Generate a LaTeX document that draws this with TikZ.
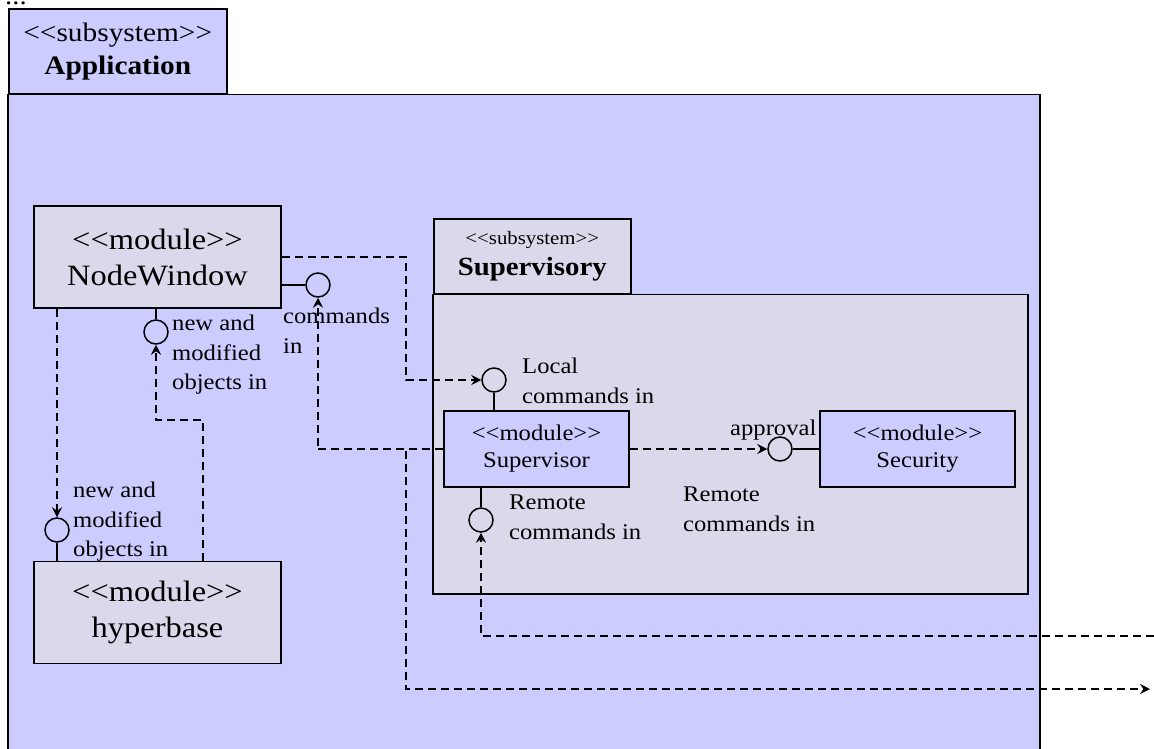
\documentclass[tikz,border=0pt]{standalone}
\usepackage{fontspec}
\setmainfont{Liberation Serif}[FakeStretch=1.1]
\usetikzlibrary{arrows.meta,calc}
\definecolor{subsysblue}{HTML}{CCCCFF}
\definecolor{modgrey}{HTML}{DAD9EC}
\newcommand\stereo[1]{<\kern0pt<#1>\kern0pt>}
\tikzset{
  module/.style={draw,line width=1.5pt,fill=modgrey,align=center,inner sep=0pt},
  bigmod/.style={module,minimum width=247pt,minimum height=102pt,font=\fontsize{29.5}{36}\selectfont},
  smallmod/.style={module,fill=subsysblue,minimum width=185pt,minimum height=76pt,font=\fontsize{22.4}{27}\selectfont},
  iface/.style={draw,line width=1.5pt,circle,minimum size=24pt,inner sep=0pt},
  stem/.style={line width=1.5pt},
  dep/.style={line width=1.8pt,dash pattern=on 8pt off 5pt,->},
  lbl/.style={font=\fontsize{22.4}{29.5}\selectfont,align=left,inner sep=0pt,anchor=north west},
}
\begin{document}
\begin{tikzpicture}[x=1pt,y=-1pt,>={Stealth[length=10pt,width=10pt,inset=3.5pt]}]
  \useasboundingbox (0,0) rectangle (1154,748);
  \node[anchor=base west,inner sep=0pt,font=\fontsize{26}{26}\selectfont] (dots) at (5,4) {...};
  % subsystems
  \node[draw,line width=1.5pt,fill=subsysblue,minimum width=218pt,minimum height=85pt,%
    anchor=north west,align=center,inner sep=0pt,font=\fontsize{26.7}{33}\selectfont] %
    (apptab) at (8,8) {\stereo{subsystem}\\\textbf{Application}};
  \draw[line width=1.5pt,fill=subsysblue] (apptab.south west) rectangle (1040,760);
  \node[draw,line width=1.5pt,fill=modgrey,minimum width=197pt,minimum height=75pt,%
    anchor=north west,align=center,inner sep=0pt,font=\fontsize{26.2}{31}\selectfont] %
    (suptab) at (433,218) {{\fontsize{18.9}{20}\selectfont\stereo{subsystem}}\\\textbf{Supervisory}};
  \draw[line width=1.5pt,fill=modgrey] (suptab.south west) rectangle (1028,594);
  % modules
  \node[bigmod] (nodewin) at (157.5,257) {\stereo{module}\\NodeWindow};
  \node[bigmod] (hyper) at (157.5,612.5) {\stereo{module}\\hyperbase};
  \node[smallmod] (sup) at (536.5,449) {\stereo{module}\\Supervisor};
  \node[smallmod,minimum width=195pt] (sec) at (917.5,449) {\stereo{module}\\Security};
  % interfaces
  \node[iface] (cmd) at (318,285) {};
  \node[iface] (nmonw) at (156,332) {};
  \node[iface] (lci) at (494,380) {};
  \node[iface] (rci) at (481,520) {};
  \node[iface] (appr) at (780,449) {};
  \node[iface] (nmohb) at (57,530) {};
  \draw[stem] (nodewin.east |- cmd) -- (cmd);
  \draw[stem] (nmonw |- nodewin.south) -- (nmonw);
  \draw[stem] (lci) -- (lci |- sup.north);
  \draw[stem] (rci |- sup.south) -- (rci);
  \draw[stem] (appr) -- (sec);
  \draw[stem] (nmohb) -- (nmohb |- hyper.north);
  % dependencies
  \coordinate (remin) at (1154,636);
  \coordinate (remout) at (1150,689);
  \draw[dep] (nodewin.east) -- ++(124,0) |- (lci);
  \draw[dep] (nmohb |- nodewin.south) -- (nmohb);
  \draw[dep] ($(hyper.north west)+(170,0)$) -- ++(0,-141) -| (nmonw);
  \draw[dep] (sup.west) -- ++(-126,0) -| (cmd);
  \draw[dep] (sup) -- (appr);
  \draw[dep] (remin) -| (rci);
  \draw[dep] (sup.west) -- ++(-37,0) |- (remout);
  % labels
  \node[lbl] (cmdlbl) at (283,308) {commands\\in};
  \node[lbl] (nmonwlbl) at (172,315) {new and\\modified\\objects in};
  \node[lbl] (lcilbl) at (522,358) {Local\\commands in};
  \node[lbl] (rcilbl) at (509,495) {Remote\\commands in};
  \node[lbl] (remlbl) at (683,487) {Remote\\commands in};
  \node[lbl] (apprlbl) at (730,420) {approval};
  \node[lbl] (nmohblbl) at (73,482) {new and\\modified\\objects in};
\end{tikzpicture}
\end{document}
